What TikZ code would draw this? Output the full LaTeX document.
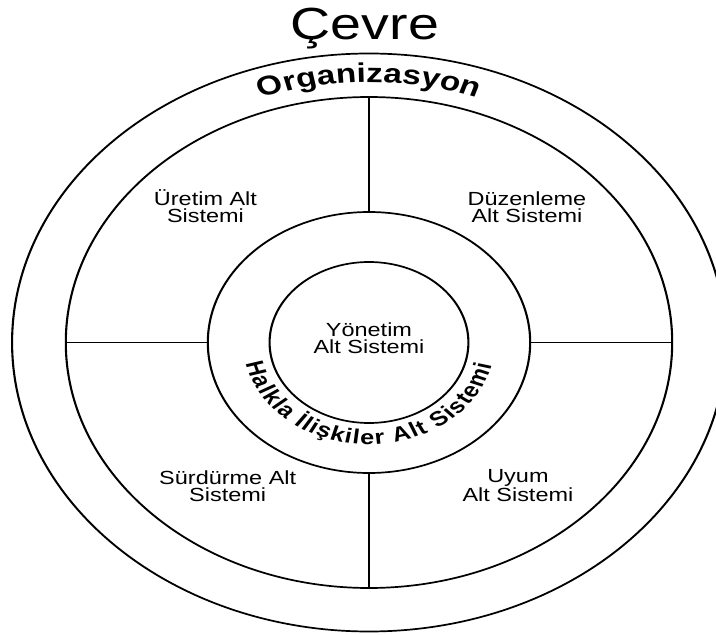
\documentclass[tikz,border=0pt]{standalone}
\usepackage{fontspec}
\setmainfont{Liberation Sans}
\usetikzlibrary{decorations.text}
\begin{document}
\begin{tikzpicture}[x=1pt,y=1pt,
  ring/.style={circle, draw, line width=1.7pt, inner sep=0pt, outer sep=0pt},
  divider/.style={line width=1.7pt},
  sublabel/.style={align=center, font=\fontsize{19}{17}\selectfont, anchor=base, inner sep=0pt},
  titletext/.style={font=\fontsize{45}{45}\selectfont, anchor=base, inner sep=0pt},
]
\useasboundingbox (-369,-292.5) rectangle (347,342.5);
\begin{scope}[transform canvas={xscale=1.235}]
  % concentric system boundaries
  \node[ring, minimum size=578pt] (env)  at (0,0) {};
  \node[ring, minimum size=491pt] (org)  at (0,0) {};
  \node[ring, minimum size=261pt] (pr)   at (0,0) {};
  \node[ring, minimum size=161pt] (mgmt) at (0,0) {};

  % dividers between the four outer subsystems
  \draw[divider] (org.north) -- (pr.north);
  \draw[divider] (pr.south) -- (org.south);
  \draw[divider] (org.west) -- (pr.west);
  \draw[divider] (pr.east) -- (org.east);

  % titles
  \node[titletext] (cevre) at (-3.3,303.2) {Çevre};

  \path[decorate, decoration={text along path, text align=center,
      text={|\fontsize{27}{27}\selectfont\bfseries|Organizasyon}}]
    (130:260) arc[start angle=130, end angle=50, radius=260];

  \path[decorate, decoration={text along path, text align=fit to path,
      text={|\fontsize{20.5}{20.5}\selectfont\bfseries|Halkla İlişkiler Alt Sistemi}}]
    (192:102) arc[start angle=192, end angle=347, radius=102];

  % subsystem labels (anchored on the baseline of the last line)
  \node[sublabel] (uretim)   at (-132.4,120.2) {Üretim Alt\\Sistemi};
  \node[sublabel] (duzen)    at (127.9,120.2)  {Düzenleme\\Alt Sistemi};
  \node[sublabel] (yonetim)  at (0,-10.8)      {Yönetim\\Alt Sistemi};
  \node[sublabel] (surdurme) at (-114.4,-159)  {Sürdürme Alt\\Sistemi};
  \node[sublabel] (uyum)     at (120.6,-159)   {Uyum\\Alt Sistemi};
\end{scope}
\end{tikzpicture}
\end{document}
